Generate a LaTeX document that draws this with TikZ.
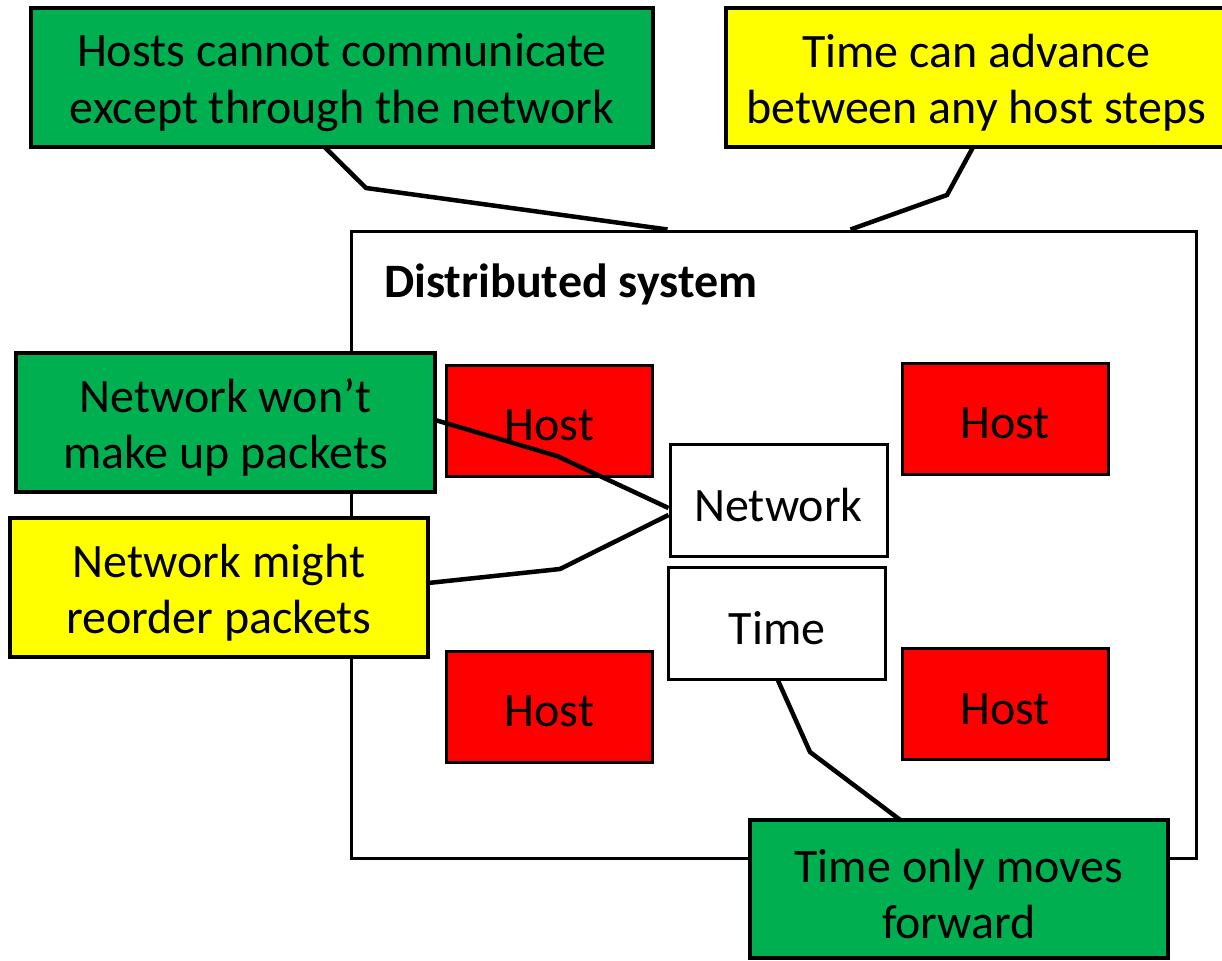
\documentclass[tikz,border=0pt]{standalone}
\usepackage{fontspec}
\setmainfont{Carlito}
\definecolor{cgreen}{HTML}{00B050}
\definecolor{cyellow}{HTML}{FFFF00}
\definecolor{cred}{HTML}{FF0000}
\begin{document}
\begin{tikzpicture}[x=1pt,y=-1pt,
  txt/.style={font=\fontsize{48}{56.5}\selectfont, align=center, inner sep=0pt},
  slot/.style={rectangle, inner sep=0pt},
  callout/.style={draw=black, line width=4pt, rectangle, inner sep=0pt},
  greenbox/.style={callout, fill=cgreen},
  yellowbox/.style={callout, fill=cyellow},
  hostbox/.style={draw=black, line width=3pt, fill=cred, minimum width=206, minimum height=111, inner sep=0pt},
  whitebox/.style={draw=black, line width=3pt, fill=white, minimum width=217, minimum height=112, inner sep=0pt},
  conn/.style={draw=black, line width=4.5pt, line join=miter}
]
\useasboundingbox (0,0) rectangle (1222,960);
% outer system box
\node[draw=black, line width=3pt, minimum width=845, minimum height=627, inner sep=0pt] (sys) at (773.5,544.5) {};
\node[font=\fontsize{48}{56}\selectfont\bfseries, anchor=base west, inner sep=0pt] (title) at (384,297) {Distributed system};
% hosts
\node[hostbox] (h1) at (549.5,420.5) {};
\node[hostbox] (h2) at (1005,418.5) {};
\node[hostbox] (h3) at (549.5,706.5) {};
\node[hostbox] (h4) at (1005,704) {};
\foreach \h in {h1,h2,h3,h4}
  \node[txt] (\h t) at ([yshift=-5]\h.center) {Host};
% network & time
\node[whitebox] (net) at (778.5,500) {};
\node[txt] (nett) at ([yshift=-5]net.center) {Network};
\node[whitebox] (time) at (777,623) {};
\node[txt] (timet) at ([yshift=-5]time.center) {Time};
% callout outlines (positions for the connectors)
\path node[slot, minimum width=622, minimum height=139] (c1) at (342,77.5) {}
      node[slot, minimum width=500, minimum height=139] (c2) at (976,77.5) {}
      node[slot, minimum width=419, minimum height=139] (c3) at (225.5,422.5) {}
      node[slot, minimum width=418, minimum height=139] (c4) at (219,587.5) {}
      node[slot, minimum width=418, minimum height=138] (c5) at (959,889) {};
% connector bend points
\coordinate (b1) at (366,188);
\coordinate (b2) at (947,195);
\coordinate (b3) at (557,456);
\coordinate (b4) at (560,569);
\coordinate (b5) at (810,752);
% connectors
\draw[conn] ([xshift=294]c1.south west) -- (b1) -- ([xshift=318]sys.north west);
\draw[conn] ([xshift=-3]c2.south) -- (b2) -- ([xshift=501]sys.north west);
\draw[conn] ([yshift=2.5]c3.east) -- (b3) -- ([yshift=-8]net.west);
\draw[conn] ([yshift=4.5]c4.east) -- (b4) -- ([yshift=-15]net.west);
\draw[conn] ([xshift=1]time.south) -- (b5) -- ([xshift=-59]c5.north);
% callout boxes with their texts
\node[greenbox, txt, minimum width=622, minimum height=139] (c1b) at (c1) {};
\node[yellowbox, txt, minimum width=500, minimum height=139] (c2b) at (c2) {};
\node[greenbox, txt, minimum width=419, minimum height=139] (c3b) at (c3) {};
\node[yellowbox, txt, minimum width=418, minimum height=139] (c4b) at (c4) {};
\node[greenbox, txt, minimum width=418, minimum height=138] (c5b) at (c5) {};
\node[txt] (c1t) at ([yshift=-5]c1.center) {Hosts cannot communicate\\except through the network};
\node[txt] (c2t) at ([yshift=-5]c2.center) {Time can advance\\between any host steps};
\node[txt] (c3t) at ([yshift=-5]c3.center) {Network won’t\\make up packets};
\node[txt] (c4t) at ([yshift=-5]c4.center) {Network might\\reorder packets};
\node[txt] (c5t) at ([yshift=-5]c5.center) {Time only moves\\forward};
\end{tikzpicture}
\end{document}
